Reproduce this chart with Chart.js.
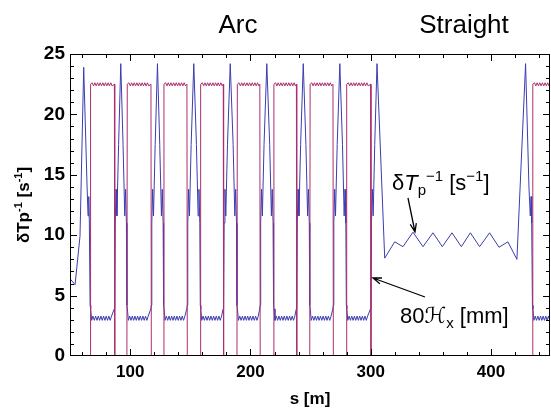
<!DOCTYPE html>
<html>
<head>
    <meta charset="utf-8">
    <title>δTp⁻¹ and 80ℋx along s</title>
    <script src="https://cdn.jsdelivr.net/npm/chart.js"></script>
    <style>
        body { margin: 0; background: #fff; }
        canvas { display: block; }
    </style>
</head>
<body>
    <canvas id="myChart" width="551" height="411"></canvas>

    <script>
        // where 80Hx jumps up to its plateau / drops back to 0 (s in m)
        const riseS = [67.0, 97.5, 128.0, 158.5, 189.0, 219.4, 249.5, 279.9, 434.6];
        const fallS = [87.0, 117.4, 147.3, 177.5, 207.9, 238.3, 268.7, 300.0];
        // top of the δTp^-1 spike between two bends
        const spikeS = [92.2, 122.7, 152.9, 183.2, 213.6, 243.9, 274.3];
        const spikeTop = 24.2;
        // spike flanks, offsets from the fall (mirrored from the next rise)
        const spikeDs = [0.2, 0.6, 1.3, 2.0, 3.4];
        const spikeY = [4.2, 11.0, 13.8, 11.6, 17.5];
        // small ripple on the plateaus, offsets from the rise
        const rippleDs = [1.0, 2.1, 3.2, 4.3, 5.4, 6.5, 7.6, 8.7, 9.8, 10.9, 12.0, 13.1, 14.2, 15.3, 16.4, 17.5];
        const blueRipple = [2.95, 3.3, 2.95, 3.3, 2.95, 3.3, 2.95, 3.3, 2.95, 3.3, 2.95, 3.3, 2.95, 3.3, 2.95, 3.3];
        const magRipple = [22.62, 22.36, 22.62, 22.36, 22.62, 22.36, 22.62, 22.36, 22.62, 22.36, 22.62, 22.36, 22.62, 22.36, 22.62, 22.36];
        const blueEdge = 3.9;
        const magEdge = 22.5;
        // δTp^-1 at the start (end of previous straight)
        const leftS = [50.0, 54.2, 58.3, 61.4, 64.2, 65.0, 65.6, 66.1, 66.7];
        const leftY = [6.4, 5.9, 9.9, 23.9, 14.0, 11.6, 13.2, 11.0, 4.2];
        // δTp^-1 in the straight section
        const straightS = [300.2, 300.6, 301.3, 302.0, 303.3, 305.2, 311.6, 319.9, 326.8, 335.1, 343.4, 351.7, 359.5,
            367.5, 375.3, 382.8, 390.5, 398.8, 406.6, 414.0, 421.5, 428.7, 431.5, 432.6, 433.3, 433.8, 434.4];
        const straightY = [4.2, 11.0, 13.8, 11.6, 17.5, 24.2, 8.1, 9.45, 9.05, 10.25, 9.05, 10.2, 9.05,
            10.2, 9.05, 10.2, 9.05, 10.2, 9.0, 9.45, 8.0, 24.2, 14.0, 11.6, 13.2, 11.0, 4.2];
        // tick labels
        const xLabels = [100, 200, 300, 400];
        const yLabels = [0, 5, 10, 15, 20, 25];

        const blueColor = '#3c3cb0';
        const magColor = '#aa2f6e';
        const fontFamily = "'Liberation Sans', Arial, sans-serif";

        const bluePts = [];
        const magPts = [{ x: 50, y: 0 }];
        leftS.forEach((s, i) => bluePts.push({ x: s, y: leftY[i] }));
        riseS.forEach((r, i) => {
            const f = fallS[i];
            const end = f === undefined ? 460 : f;
            magPts.push({ x: r - 0.2, y: 0 }, { x: r + 0.1, y: magEdge });
            bluePts.push({ x: r + 0.2, y: blueEdge });
            rippleDs.forEach((d, j) => {
                if (r + d < end - 0.6) {
                    bluePts.push({ x: r + d, y: blueRipple[j] });
                    magPts.push({ x: r + d + 0.5, y: magRipple[j] });
                }
            });
            if (f === undefined) return;
            bluePts.push({ x: f - 0.2, y: blueEdge });
            magPts.push({ x: f - 0.1, y: magEdge }, { x: f + 0.2, y: 0 });
            if (i < spikeS.length) {
                const rn = riseS[i + 1];
                spikeDs.forEach((d, j) => bluePts.push({ x: f + d, y: spikeY[j] }));
                bluePts.push({ x: spikeS[i], y: spikeTop });
                for (let j = spikeDs.length - 1; j >= 0; j--) {
                    bluePts.push({ x: rn - spikeDs[j], y: spikeY[j] });
                }
            } else {
                straightS.forEach((s, j) => bluePts.push({ x: s, y: straightY[j] }));
            }
        });

        // draw a row of text pieces (sub/superscripts etc.)
        function runsWidth(ctx, runs) {
            let w = 0;
            runs.forEach(r => { ctx.font = r.font; if (!r.stack) w += ctx.measureText(r.t).width; });
            return w;
        }
        function drawRuns(ctx, x, y, runs) {
            let cx = x;
            runs.forEach(r => {
                ctx.font = r.font;
                const w = ctx.measureText(r.t).width;
                const px = r.stack ? cx - r.back : cx;
                ctx.fillText(r.t, px, y + (r.dy || 0));
                if (!r.stack) cx += w;
            });
        }
        function arrow(ctx, x1, y1, x2, y2) {
            const a = Math.atan2(y2 - y1, x2 - x1);
            ctx.beginPath();
            ctx.moveTo(x1, y1);
            ctx.lineTo(x2, y2);
            ctx.moveTo(x2 - 9 * Math.cos(a - 0.35), y2 - 9 * Math.sin(a - 0.35));
            ctx.lineTo(x2, y2);
            ctx.lineTo(x2 - 9 * Math.cos(a + 0.35), y2 - 9 * Math.sin(a + 0.35));
            ctx.stroke();
        }

        const frame = {
            id: 'frame',
            afterDatasetsDraw(chart) {
                const { ctx, chartArea: a, scales: { x, y } } = chart;
                ctx.save();
                ctx.strokeStyle = '#000';
                ctx.lineWidth = 1;
                ctx.strokeRect(a.left + 0.5, a.top + 0.5, a.right - a.left - 1, a.bottom - a.top - 1);
                ctx.beginPath();
                for (let v = 60; v <= 440; v += 20) {
                    const px = Math.round(x.getPixelForValue(v)) + 0.5;
                    const len = v % 100 === 0 ? 7 : 4;
                    ctx.moveTo(px, a.bottom); ctx.lineTo(px, a.bottom - len);
                    ctx.moveTo(px, a.top); ctx.lineTo(px, a.top + len);
                }
                for (let v = 1; v < 25; v++) {
                    const py = Math.round(y.getPixelForValue(v)) + 0.5;
                    const len = v % 5 === 0 ? 7 : 4;
                    ctx.moveTo(a.left, py); ctx.lineTo(a.left + len, py);
                    ctx.moveTo(a.right, py); ctx.lineTo(a.right - len, py);
                }
                ctx.stroke();

                ctx.fillStyle = '#000';
                ctx.textBaseline = 'alphabetic';
                // section names
                ctx.font = '26px ' + fontFamily;
                ctx.textAlign = 'center';
                ctx.fillText('Arc', 238, 33);
                ctx.fillText('Straight', 464, 33);
                // axis titles
                ctx.font = 'bold 17px ' + fontFamily;
                ctx.fillText('s [m]', 310, 404);
                ctx.textAlign = 'left';
                const yt = [
                    { t: 'δTp', font: 'bold 17px ' + fontFamily },
                    { t: '-1', font: 'bold 11px ' + fontFamily, dy: -7 },
                    { t: ' [s', font: 'bold 17px ' + fontFamily },
                    { t: '-1', font: 'bold 11px ' + fontFamily, dy: -7 },
                    { t: ']', font: 'bold 17px ' + fontFamily }
                ];
                ctx.save();
                ctx.translate(29, 205);
                ctx.rotate(-Math.PI / 2);
                drawRuns(ctx, -runsWidth(ctx, yt) / 2, 0, yt);
                ctx.restore();

                // annotations
                const big = '22px ' + fontFamily;
                const small = '15px ' + fontFamily;
                drawRuns(ctx, 392, 190, [
                    { t: 'δ', font: big },
                    { t: 'T', font: 'italic ' + big },
                    { t: 'p', font: small, dy: 5 },
                    { t: '−1', font: small, dy: -9, stack: false },
                    { t: ' [s', font: big },
                    { t: '−1', font: small, dy: -9 },
                    { t: ']', font: big }
                ]);
                drawRuns(ctx, 400, 323, [
                    { t: '80', font: big },
                    { t: 'ℋ', font: "22px 'DejaVu Serif', 'DejaVu Sans', serif" },
                    { t: 'x', font: small, dy: 5 },
                    { t: ' [mm]', font: big }
                ]);
                ctx.lineWidth = 1.3;
                arrow(ctx, 408, 198, 415, 232);
                arrow(ctx, 425, 297, 373, 278);
                ctx.restore();
            }
        };

        const ctx = document.getElementById('myChart').getContext('2d');
        const myChart = new Chart(ctx, {
            type: 'line',
            data: {
                datasets: [{
                    label: '80Hx [mm]',
                    data: magPts,
                    borderColor: magColor,
                    borderWidth: 1,
                    pointRadius: 0,
                    tension: 0
                }, {
                    label: 'δTp-1 [s-1]',
                    data: bluePts,
                    borderColor: blueColor,
                    borderWidth: 1,
                    pointRadius: 0,
                    tension: 0
                }]
            },
            options: {
                responsive: false,
                animation: false,
                layout: { padding: { top: 54, right: 1, left: 0, bottom: 0 } },
                plugins: { legend: { display: false }, tooltip: { enabled: false } },
                scales: {
                    x: {
                        type: 'linear',
                        min: 50,
                        max: 449,
                        grid: { display: false, drawTicks: false },
                        border: { display: false },
                        afterBuildTicks: s => { s.ticks = xLabels.map(v => ({ value: v })); },
                        afterFit: s => { s.height = 55; },
                        ticks: {
                            padding: 6,
                            autoSkip: false,
                            maxRotation: 0,
                            color: '#000',
                            font: { family: fontFamily, size: 17, weight: 'bold' }
                        }
                    },
                    y: {
                        min: 0,
                        max: 25,
                        grid: { display: false, drawTicks: false },
                        border: { display: false },
                        afterBuildTicks: s => { s.ticks = yLabels.map(v => ({ value: v })); },
                        afterFit: s => { s.width = 70; },
                        ticks: {
                            padding: 5,
                            color: '#000',
                            font: { family: fontFamily, size: 19, weight: 'bold' }
                        }
                    }
                }
            },
            plugins: [frame]
        });
    </script>
</body>
</html>
